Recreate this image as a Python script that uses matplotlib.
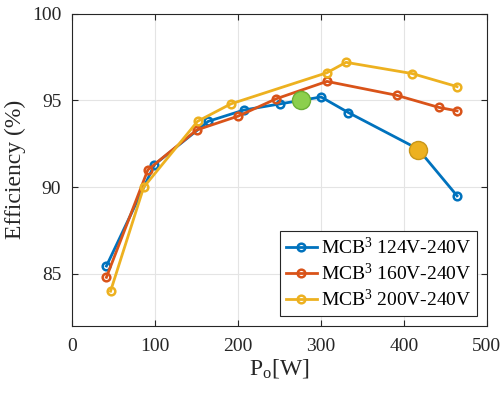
import matplotlib
matplotlib.use("Agg")
import matplotlib.pyplot as plt

plt.rcParams['font.family'] = ['Liberation Serif', 'DejaVu Serif']
plt.rcParams['mathtext.fontset'] = 'custom'
plt.rcParams['mathtext.rm'] = 'Liberation Serif'
plt.rcParams['mathtext.it'] = 'Liberation Serif:italic'

# MCB3 124V-240V
p_124 = [41, 99, 164, 207, 250, 300, 333, 417, 464]
eff_124 = [85.45, 91.3, 93.8, 94.45, 94.8, 95.2, 94.3, 92.2, 89.5]
# MCB3 160V-240V
p_160 = [41, 91, 150, 200, 246, 307, 391, 442, 464]
eff_160 = [84.8, 91.0, 93.3, 94.1, 95.1, 96.1, 95.3, 94.6, 94.4]
# MCB3 200V-240V
p_200 = [46, 86, 151, 191, 307, 330, 410, 464]
eff_200 = [84.0, 90.0, 93.8, 94.8, 96.6, 97.2, 96.55, 95.8]

labels = [r'MCB$^3$ 124V-240V', r'MCB$^3$ 160V-240V', r'MCB$^3$ 200V-240V']
colors = ['#0072BD', '#D95319', '#EDB120']

# highlighted operating points
hl_p = [276, 417]
hl_eff = [95.0, 92.15]
hl_face = ['#8CCF4D', '#EDB120']
hl_edge = ['#6BAF35', '#C8961A']

fig = plt.figure(figsize=(5.03, 3.94), dpi=100)
ax = fig.add_axes([0.144, 0.173, 0.824, 0.792])

for x, y, lab, c in zip([p_124, p_160, p_200], [eff_124, eff_160, eff_200], labels, colors):
    ax.plot(x, y, '-o', color=c, lw=2, ms=5.5, mfc='none', mew=1.8, label=lab)

for x, y, fc, ec in zip(hl_p, hl_eff, hl_face, hl_edge):
    ax.plot(x, y, 'o', ms=13, mfc=fc, mec=ec, mew=1, zorder=5)

ax.set_xlim(0, 500)
ax.set_ylim(82, 100)
ax.set_xticks([0, 100, 200, 300, 400, 500])
ax.set_yticks([85, 90, 95, 100])
ax.grid(True, color='#e4e4e4', lw=0.8)
ax.set_axisbelow(True)
ax.tick_params(direction='in', labelsize=14, colors='#262626', top=True, right=True, length=4)
ax.tick_params(axis='x', pad=9)
ax.tick_params(axis='y', pad=8)
for s in ax.spines.values():
    s.set_color('#262626')
    s.set_linewidth(0.8)

ax.set_xlabel(r'P$_\mathrm{o}$[W]', fontsize=17, color='#262626', labelpad=1)
ax.set_ylabel('Efficiency (%)', fontsize=17, color='#262626', labelpad=4)

leg = ax.legend(loc='lower right', fontsize=14, frameon=True, fancybox=False,
                edgecolor='#262626', framealpha=1, handlelength=1.6,
                borderaxespad=0.5, labelspacing=0.25, handletextpad=0.2,
                borderpad=0.3)
leg.get_frame().set_linewidth(0.8)

fig.savefig('out.png', dpi=100)
